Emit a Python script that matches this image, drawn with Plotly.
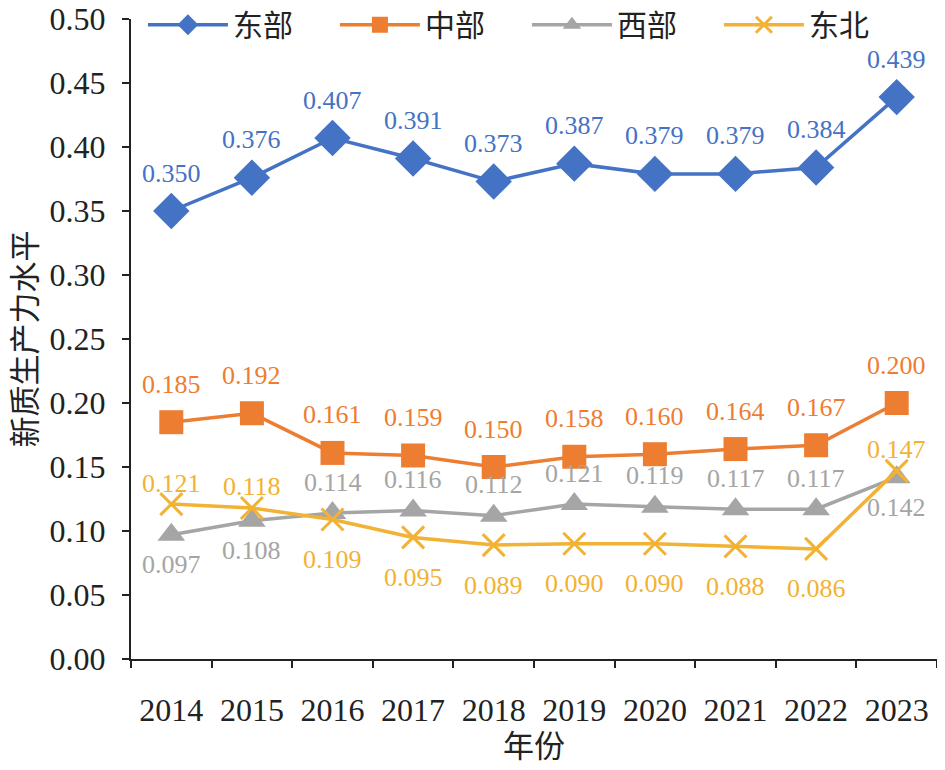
import plotly.graph_objects as go

years = ["2014", "2015", "2016", "2017", "2018", "2019", "2020", "2021", "2022", "2023"]
east = [0.350, 0.376, 0.407, 0.391, 0.373, 0.387, 0.379, 0.379, 0.384, 0.439]
central = [0.185, 0.192, 0.161, 0.159, 0.150, 0.158, 0.160, 0.164, 0.167, 0.200]
west = [0.097, 0.108, 0.114, 0.116, 0.112, 0.121, 0.119, 0.117, 0.117, 0.142]
northeast = [0.121, 0.118, 0.109, 0.095, 0.089, 0.090, 0.090, 0.088, 0.086, 0.147]
y_ticks = [0.00, 0.05, 0.10, 0.15, 0.20, 0.25, 0.30, 0.35, 0.40, 0.45, 0.50]

# label side per point: 1 = above, -1 = below
west_side = [-1, -1, 1, 1, 1, 1, 1, 1, 1, -1]
ne_side = [1, 1, -1, -1, -1, -1, -1, -1, -1, 1]

FONT = "Liberation Serif, Times New Roman, Noto Sans CJK SC, serif"

series = [
    ("东部", east, "#4472C4", dict(symbol="diamond", size=28), [1] * 10, 38, 0),
    ("中部", central, "#ED7D31", dict(symbol="square", size=24), [1] * 10, 38, 0),
    ("西部", west, "#A5A5A5", dict(symbol="triangle-up", size=24), west_side, 31, -30),
    ("东北", northeast, "#F2B233", dict(symbol="x-thin-open", size=22, line=dict(width=3)), ne_side, 21, -40),
]

fig = go.Figure()
annotations = []
for name, vals, color, marker, sides, up, down in series:
    m = dict(marker)
    m["color"] = color
    if "line" in m:
        m["line"] = dict(width=m["line"]["width"], color=color)
    fig.add_trace(go.Scatter(
        x=years, y=vals, name=name, mode="lines+markers",
        line=dict(color=color, width=3.5), marker=m,
    ))
    for i, (v, s) in enumerate(zip(vals, sides)):
        # category axis: annotation x given as the category index
        annotations.append(dict(
            x=i, y=v, text=f"{v:.3f}", showarrow=False,
            yshift=up if s > 0 else down,
            font=dict(family=FONT, size=26, color=color),
        ))

# page body keeps a default 8px margin, so the figure is 8px smaller than the window
fig.update_layout(
    width=937, height=762,
    margin=dict(l=123, r=8, t=11, b=111, autoexpand=False),
    paper_bgcolor="white", plot_bgcolor="white",
    font=dict(family=FONT, size=32, color="#222222"),
    annotations=annotations,
    showlegend=True,
    legend=dict(
        orientation="h", xref="container", yref="container",
        x=0.144, y=0.978, xanchor="left", yanchor="middle",
        font=dict(family=FONT, size=30, color="#222222"),
        itemwidth=80, entrywidth=97, entrywidthmode="pixels",
        bgcolor="rgba(0,0,0,0)",
    ),
    xaxis=dict(
        type="category", range=[-0.5, 9.5],
        showline=True, linecolor="#222222", linewidth=2,
        ticks="outside", tickson="boundaries", ticklen=7, tickwidth=2, tickcolor="#222222",
        tickfont=dict(family=FONT, size=32, color="#222222"),
        ticklabelstandoff=22,
        showgrid=False, zeroline=False,
        title=dict(text="年份", font=dict(family=FONT, size=31), standoff=8),
    ),
    yaxis=dict(
        range=[0, 0.5], tickvals=y_ticks, tickformat=".2f",
        showline=True, linecolor="#222222", linewidth=2,
        ticks="outside", ticklen=7, tickwidth=2, tickcolor="#222222",
        tickfont=dict(family=FONT, size=32, color="#222222"),
        ticklabelstandoff=10, ticklabeloverflow="allow",
        showgrid=False, zeroline=False,
        title=dict(text="新质生产力水平", font=dict(family=FONT, size=31), standoff=12),
    ),
)

fig.write_html("out.html")
